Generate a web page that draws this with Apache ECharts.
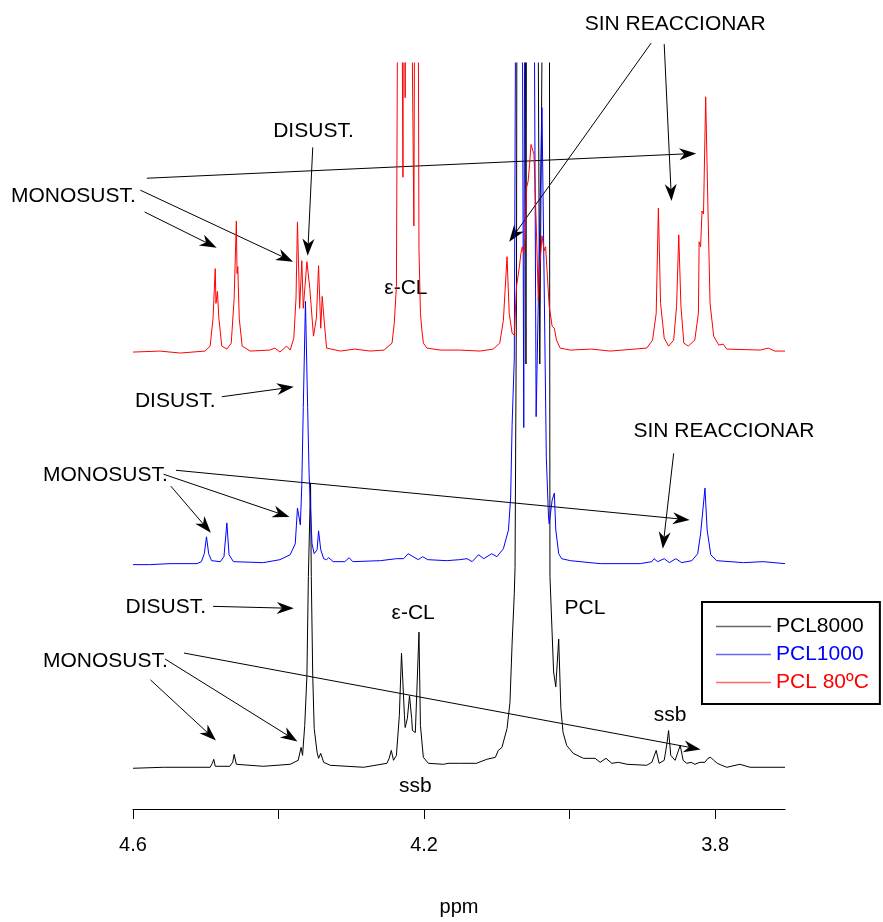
<!DOCTYPE html>
<html>
<head>
<meta charset="utf-8">
<script src="https://cdn.jsdelivr.net/npm/echarts@6/dist/echarts.min.js"></script>
<style>
  html, body { margin: 0; padding: 0; background: #fff; }
  #chart { width: 883px; height: 922px; }
</style>
</head>
<body>
<div id="chart"></div>
<script>
const FONT = '"Liberation Sans", Arial, Helvetica, sans-serif';

// Chemical shift axis (ppm)
const tickValues = [4.6, 4.4, 4.2, 4.0, 3.8];
const labelValues = [4.6, 4.2, 3.8];

// Vertical stacking of the three spectra (intensity units)
const offsets = { pcl8000: 0, pcl1000: 204, pcl80: 417 };

// 1H NMR spectra: [ppm, intensity above the spectrum's own baseline]
const pcl8000 = [
  [4.600, -2], [4.558, -1], [4.512, -1], [4.494, -1], [4.491, 3], [4.489, 7], [4.487, 0],
  [4.467, 0], [4.463, 4], [4.461, 12], [4.458, 2], [4.421, 0], [4.384, 2], [4.373, 6],
  [4.369, 19], [4.367, 11], [4.364, 41], [4.361, 91], [4.359, 191], [4.356, 285], [4.355, 191],
  [4.353, 91], [4.351, 38], [4.347, 14], [4.345, 8], [4.342, 13], [4.338, 4], [4.329, 1],
  [4.283, -1], [4.251, 3], [4.248, 8], [4.245, 16], [4.242, 6], [4.238, 11], [4.234, 51],
  [4.231, 114], [4.227, 51], [4.226, 39], [4.223, 48], [4.220, 71], [4.217, 48], [4.216, 36],
  [4.212, 34], [4.210, 74], [4.207, 135], [4.205, 41], [4.201, 9], [4.194, 3], [4.173, 2],
  [4.167, 3], [4.151, 3], [4.128, 3], [4.114, 7], [4.102, 9], [4.098, 16], [4.093, 19],
  [4.086, 38], [4.082, 64], [4.079, 124], [4.076, 174], [4.075, 200], [4.073, 480],
  [4.072, 1000], [4.061, 1000], [4.060, 405], [4.059, 1000], [4.045, 1000], [4.043, 715],
  [4.041, 405], [4.038, 715], [4.035, 1000], [4.028, 1000], [4.027, 191], [4.022, 95],
  [4.019, 80], [4.015, 128], [4.012, 58], [4.009, 34], [4.004, 21], [3.995, 13], [3.981, 8],
  [3.965, 8], [3.958, 4], [3.950, 8], [3.942, 3], [3.933, 4], [3.921, 2], [3.894, 1],
  [3.887, 4], [3.881, 16], [3.877, 3], [3.870, 6], [3.866, 24], [3.864, 36], [3.861, 11],
  [3.855, 6], [3.848, 21], [3.844, 6], [3.839, 3], [3.833, 4], [3.828, 2], [3.821, 4],
  [3.814, 4], [3.810, 8], [3.806, 9], [3.802, 6], [3.797, 3], [3.791, 1], [3.784, -1],
  [3.766, 2], [3.752, -1], [3.704, -1]
];

const pcl1000 = [
  [4.600, -1], [4.577, -1], [4.549, 0], [4.512, 0], [4.506, 2], [4.502, 10], [4.499, 27],
  [4.496, 10], [4.492, 3], [4.480, 2], [4.475, 7], [4.471, 41], [4.468, 9], [4.462, 2],
  [4.421, 1], [4.398, 4], [4.384, 9], [4.377, 20], [4.374, 56], [4.370, 39], [4.368, 80],
  [4.366, 157], [4.363, 264], [4.360, 157], [4.358, 90], [4.354, 20], [4.351, 10], [4.347, 14],
  [4.345, 33], [4.342, 14], [4.338, 5], [4.334, 4], [4.331, 6], [4.325, 2], [4.309, 2],
  [4.303, 6], [4.298, 2], [4.260, 3], [4.238, 5], [4.228, 5], [4.222, 10], [4.215, 7],
  [4.208, 4], [4.202, 7], [4.195, 4], [4.169, 3], [4.151, 4], [4.141, 5], [4.134, 2],
  [4.125, 9], [4.118, 5], [4.107, 10], [4.100, 7], [4.091, 15], [4.084, 34], [4.081, 67],
  [4.079, 140], [4.076, 207], [4.073, 800], [4.066, 800], [4.063, 137], [4.061, 800],
  [4.050, 800], [4.046, 148], [4.038, 459], [4.032, 107], [4.029, 47], [4.028, 40],
  [4.024, 64], [4.021, 71], [4.019, 34], [4.015, 10], [4.011, 5], [3.999, 3], [3.958, 0],
  [3.903, 0], [3.887, 2], [3.884, 5], [3.879, 2], [3.870, 5], [3.863, 1], [3.854, 5],
  [3.846, 1], [3.832, 3], [3.824, 10], [3.820, 30], [3.814, 76], [3.811, 34], [3.806, 9],
  [3.798, 3], [3.761, 1], [3.734, 2], [3.704, 0]
];

const pcl80 = [
  [4.600, 0], [4.563, 1], [4.535, -1], [4.501, 1], [4.494, 6], [4.490, 34], [4.487, 84],
  [4.486, 49], [4.484, 61], [4.482, 34], [4.478, 6], [4.471, 3], [4.465, 9], [4.461, 54],
  [4.458, 132], [4.457, 79], [4.456, 86], [4.454, 34], [4.450, 6], [4.439, 1], [4.412, 2],
  [4.405, 4], [4.398, 0], [4.389, 6], [4.384, 2], [4.379, 14], [4.376, 54], [4.374, 131],
  [4.371, 44], [4.368, 92], [4.366, 44], [4.361, 91], [4.359, 92], [4.357, 64], [4.352, 16],
  [4.348, 34], [4.345, 87], [4.342, 24], [4.340, 56], [4.337, 29], [4.334, 4], [4.315, 1],
  [4.295, 3], [4.274, 1], [4.255, 2], [4.244, 9], [4.241, 29], [4.238, 66], [4.235, 600],
  [4.232, 600], [4.229, 176], [4.228, 600], [4.226, 256], [4.224, 600], [4.220, 600],
  [4.214, 127], [4.212, 600], [4.209, 600], [4.207, 104], [4.205, 39], [4.203, 22],
  [4.201, 9], [4.196, 4], [4.178, 2], [4.151, 2], [4.123, 1], [4.105, 3], [4.096, 9],
  [4.091, 32], [4.086, 96], [4.083, 39], [4.079, 19], [4.076, 17], [4.073, 66], [4.069, 86],
  [4.067, 99], [4.065, 106], [4.063, 99], [4.061, 116], [4.059, 166], [4.057, 172],
  [4.055, 189], [4.053, 209], [4.051, 210], [4.049, 199], [4.046, 132], [4.043, 52],
  [4.041, 86], [4.038, 117], [4.035, 102], [4.033, 106], [4.031, 82], [4.028, 46],
  [4.024, 26], [4.021, 24], [4.018, 12], [4.013, 4], [3.999, 2], [3.970, 3], [3.944, 1],
  [3.894, 4], [3.886, 12], [3.881, 39], [3.878, 145], [3.875, 49], [3.870, 14], [3.864, 6],
  [3.857, 12], [3.853, 46], [3.850, 118], [3.847, 46], [3.843, 9], [3.837, 6], [3.828, 12],
  [3.823, 39], [3.822, 111], [3.820, 106], [3.818, 142], [3.816, 139], [3.813, 257],
  [3.810, 149], [3.807, 49], [3.802, 16], [3.795, 7], [3.789, 8], [3.784, 3], [3.738, 2],
  [3.727, 4], [3.718, 1], [3.704, 1]
];

// Peak assignments: arrows [from, to] in [ppm, stacked intensity]
const arrows = [
  [[3.888, 728], [4.083, 528]],
  [[3.870, 727], [3.860, 569]],
  [[4.581, 592], [3.826, 617]],
  [[4.584, 558], [4.485, 522]],
  [[4.590, 580], [4.380, 508]],
  [[4.353, 623], [4.360, 514]],
  [[4.478, 372], [4.379, 382]],
  [[4.541, 298], [3.835, 248]],
  [[4.548, 282], [4.493, 235]],
  [[4.558, 294], [4.385, 251]],
  [[3.857, 315], [3.872, 219]],
  [[4.490, 161], [4.379, 159]],
  [[4.530, 114], [3.820, 17]],
  [[4.576, 87], [4.486, 26]],
  [[4.556, 108], [4.374, 25]]
];

// Text labels: [text, ppm, stacked intensity] (label centre)
const labels = [
  ['SIN REACCIONAR', 3.855, 747],
  ['DISUST.', 4.352, 639],
  ['MONOSUST.', 4.682, 574],
  ['\u03b5-CL', 4.225, 481],
  ['DISUST.', 4.542, 368],
  ['MONOSUST.', 4.638, 293],
  ['SIN REACCIONAR', 3.788, 337],
  ['DISUST.', 4.555, 160],
  ['MONOSUST.', 4.638, 106],
  ['\u03b5-CL', 4.215, 154],
  ['PCL', 3.979, 159],
  ['ssb', 3.862, 51],
  ['ssb', 4.212, -20]
];

const seriesDefs = [
  { name: 'PCL8000', data: pcl8000, offset: offsets.pcl8000, color: '#000000' },
  { name: 'PCL1000', data: pcl1000, offset: offsets.pcl1000, color: '#0000ff' },
  { name: 'PCL 80\u00baC', data: pcl80, offset: offsets.pcl80, color: '#ff0000' }
];

const chart = echarts.init(document.getElementById('chart'), null, { renderer: 'canvas' });

chart.setOption({
  animation: false,
  backgroundColor: '#ffffff',
  grid: { left: 133, right: 98, top: 63, bottom: 108 },
  xAxis: {
    type: 'value',
    min: 3.704,
    max: 4.6,
    inverse: true,
    position: 'bottom',
    axisLine: { show: true, onZero: false, lineStyle: { color: '#000', width: 1 } },
    axisTick: { show: true, customValues: tickValues, length: 10, lineStyle: { color: '#000', width: 1 } },
    axisLabel: {
      show: true, customValues: labelValues, margin: 26, color: '#000',
      fontSize: 20, fontFamily: FONT, formatter: v => v.toFixed(1)
    },
    splitLine: { show: false },
    name: 'ppm',
    nameLocation: 'middle',
    nameGap: 88,
    nameTextStyle: { color: '#000', fontSize: 20, fontFamily: FONT }
  },
  yAxis: { type: 'value', min: -43, max: 708, show: false },
  legend: {
    orient: 'vertical',
    left: 702,
    top: 602,
    padding: [14, 11, 11, 14],
    icon: 'rect',
    itemWidth: 55,
    itemHeight: 1.5,
    itemGap: 7,
    borderColor: '#000',
    borderWidth: 2,
    selectedMode: false,
    textStyle: { fontSize: 21, fontFamily: FONT },
    data: seriesDefs.map(s => ({
      name: s.name,
      itemStyle: { color: s.color, opacity: 0.6, borderWidth: 0 },
      textStyle: { color: s.color }
    }))
  },
  series: seriesDefs.map(s => ({
    name: s.name,
    type: 'line',
    symbol: 'none',
    showSymbol: false,
    clip: true,
    silent: true,
    lineStyle: { color: s.color, width: 1 },
    itemStyle: { color: s.color },
    data: s.data.map(([p, v]) => [p, v + s.offset])
  }))
});

// Annotation arrows and labels, placed through the chart's own axes
const toPx = pt => chart.convertToPixel({ gridIndex: 0 }, pt);
const elements = [];

arrows.forEach(([from, to]) => {
  const a = toPx(from), b = toPx(to);
  const dx = b[0] - a[0], dy = b[1] - a[1];
  const len = Math.hypot(dx, dy);
  const ux = dx / len, uy = dy / len, nx = -uy, ny = ux;
  const L = 17, W = 6;
  const back = [b[0] - ux * L, b[1] - uy * L];
  const notch = [b[0] - ux * L * 0.7, b[1] - uy * L * 0.7];
  elements.push({
    type: 'polyline', silent: true,
    shape: { points: [a, notch] },
    style: { stroke: '#000', lineWidth: 1, fill: null }
  });
  elements.push({
    type: 'polygon', silent: true,
    shape: { points: [b, [back[0] + nx * W, back[1] + ny * W], notch, [back[0] - nx * W, back[1] - ny * W]] },
    style: { fill: '#000' }
  });
});

labels.forEach(([text, p, v]) => {
  const c = toPx([p, v]);
  elements.push({
    type: 'text', silent: true, x: c[0], y: c[1],
    style: { text, fill: '#000', fontSize: 21, fontFamily: FONT, align: 'center', verticalAlign: 'middle' }
  });
});

chart.setOption({ graphic: { elements } });
</script>
</body>
</html>
